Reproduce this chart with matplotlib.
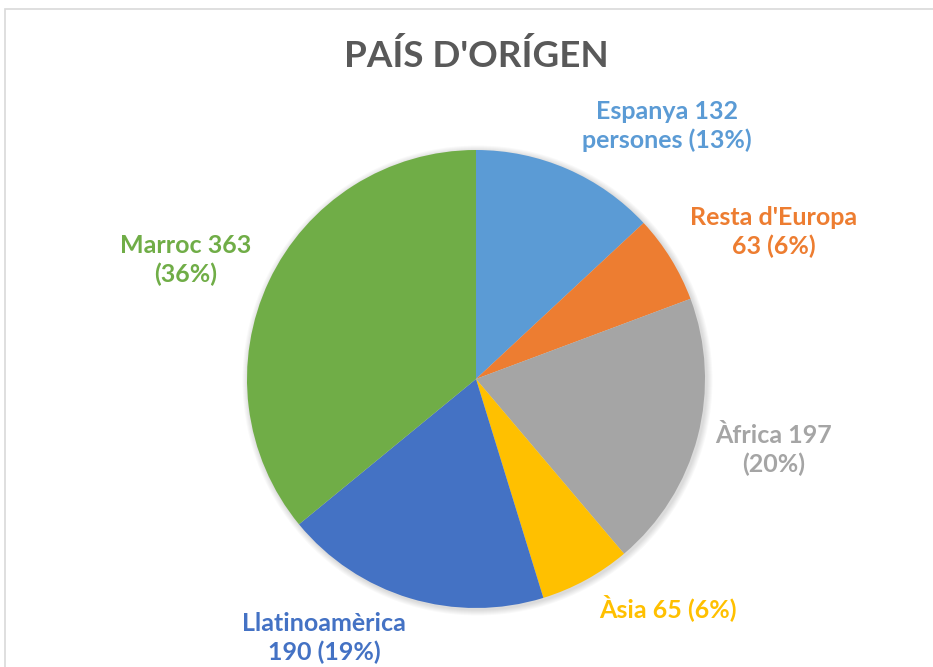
import matplotlib.pyplot as plt
from matplotlib.patches import Rectangle, Circle

# data
categories = ["Espanya", "Resta d'Europa", "Àfrica", "Àsia", "Llatinoamèrica", "Marroc"]
values = [132, 63, 197, 65, 190, 363]
colors = ["#5B9BD5", "#ED7D31", "#A5A5A5", "#FFC000", "#4472C4", "#70AD47"]
label_texts = [
    "Espanya 132\npersones (13%)",
    "Resta d'Europa\n63 (6%)",
    "Àfrica 197\n(20%)",
    "Àsia 65 (6%)",
    "Llatinoamèrica\n190 (19%)",
    "Marroc 363\n(36%)",
]
# label centres in pixels (x, y from top)
label_pos = [(667, 126), (774, 232), (774, 450), (668, 608), (324, 638), (186, 260)]

W, H = 933, 667
plt.rcParams["font.family"] = ["Lato", "DejaVu Sans"]

fig = plt.figure(figsize=(W / 100, H / 100), dpi=100)
ax = fig.add_axes([0, 0, 1, 1])
ax.set_xlim(0, W)
ax.set_ylim(0, H)
ax.set_aspect("equal")
ax.axis("off")

# chart area border
ax.add_patch(Rectangle((5, -20), W + 20, H - 9 + 20, fill=False, edgecolor="#D9D9D9", linewidth=1.2))

cx, cy, r = 476, H - 379, 229

# soft shadow behind the pie
for i in range(1, 7):
    ax.add_patch(Circle((cx + 1.5, cy - 1.5), r + i, color="black", alpha=0.025, lw=0, zorder=0))

ax.pie(values, colors=colors, startangle=90, counterclock=False,
       center=(cx, cy), radius=r, wedgeprops=dict(linewidth=0, zorder=2))
ax.set_xlim(0, W)
ax.set_ylim(0, H)

ax.text(476, H - 56, "PAÍS D'ORÍGEN", ha="center", va="center",
        fontsize=26.5, fontweight="bold", color="#595959")

for txt, (x, y), c in zip(label_texts, label_pos, colors):
    ax.text(x, H - y, txt, ha="center", va="center", fontsize=18,
            fontweight="bold", color=c, linespacing=1.3)

fig.savefig("out.png", dpi=100)
